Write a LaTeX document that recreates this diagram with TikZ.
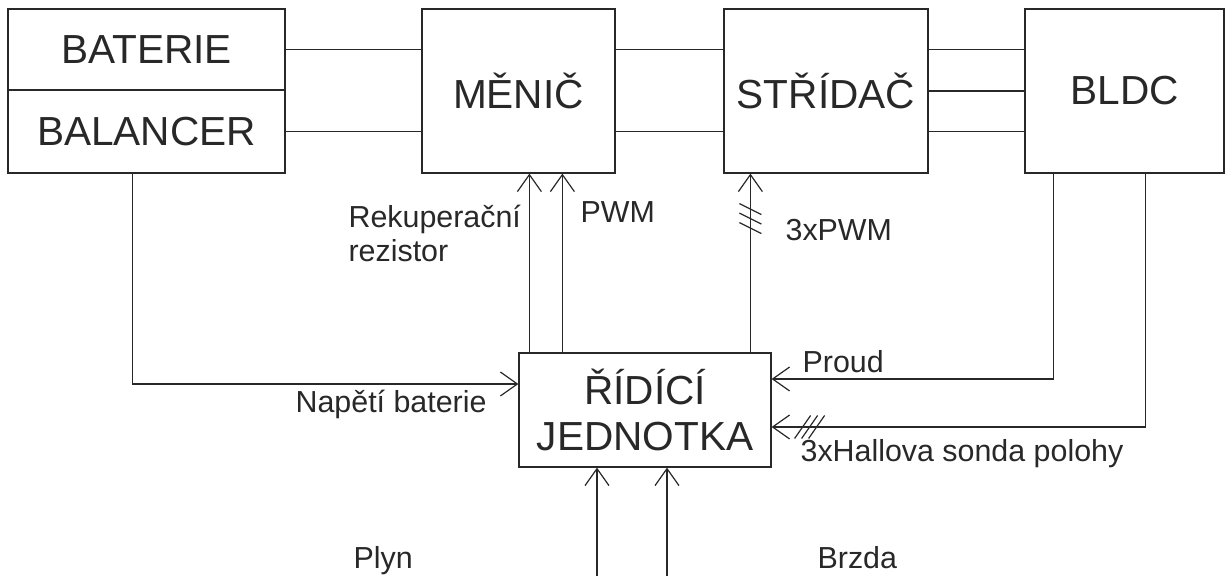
\documentclass[tikz,border=0pt]{standalone}
\usepackage{fontspec}
\setsansfont{Liberation Sans}
\usetikzlibrary{arrows.meta,calc}
\definecolor{cline}{RGB}{40,40,40}

\begin{document}
\begin{tikzpicture}[
  x=0.5pt,y=-0.5pt,
  font=\sffamily,
  line width=0.6pt,
  blok/.style={draw=cline,inner sep=0pt,align=center,text=cline,font=\sffamily\fontsize{20.3}{23}\selectfont},
  popis/.style={anchor=base west,inner sep=0pt,align=left,text=cline,font=\sffamily\fontsize{15.2}{17}\selectfont},
  wire/.style={draw=cline},
  sig/.style={draw=cline,-{Straight Barb[length=8.5pt,width=12pt]}},
  hash/.style={draw=cline}
]
  \useasboundingbox (0,0) rectangle (1228,576);

  \node[blok,minimum width=138.5pt,minimum height=40.5pt] (bat) at (146.5,49.5) {BATERIE};
  \node[blok,minimum width=138.5pt,minimum height=41.5pt] (bal) at (146.5,131.5) {BALANCER};
  \node[blok,minimum width=96.5pt,minimum height=82pt] (menic) at (518.5,91) {MĚNIČ};
  \node[blok,minimum width=102pt,minimum height=82pt] (stridac) at (826,91) {STŘÍDAČ};
  \node[blok,minimum width=99.5pt,minimum height=82pt] (bldc) at (1124.5,91) {BLDC};
  \node[blok,minimum width=126pt,minimum height=57pt] (rj) at (645,410) {ŘÍDÍCÍ\\JEDNOTKA};

  \draw[wire] (bat.east) -- (bat.east -| menic.west);
  \draw[wire] (bal.east) -- (bal.east -| menic.west);
  \draw[wire] (bat.east -| menic.east) -- (bat.east -| stridac.west);
  \draw[wire] (bal.east -| menic.east) -- (bal.east -| stridac.west);
  \draw[wire] (bat.east -| stridac.east) -- (bat.east -| bldc.west);
  \draw[wire] (stridac.east) -- (bldc.west);
  \draw[wire] (bal.east -| stridac.east) -- (bal.east -| bldc.west);

  \coordinate (rek) at ($(rj.north west)+(11,0)$);
  \coordinate (pwm) at ($(rj.north west)+(44,0)$);
  \coordinate (pwm3) at ($(rj.north west)+(232,0)$);
  \draw[sig] (rek) -- (rek |- menic.south);
  \draw[sig] (pwm) -- (pwm |- menic.south);
  \draw[sig] (pwm3) -- (pwm3 |- stridac.south);
  \foreach \d in {0,9.5,19}
    \draw[hash] ($(pwm3 |- stridac.south)+(-11,30+\d)$) -- ++(22,11);

  \coordinate (nap) at ($(bal.south west)+(125,0)$);
  \coordinate (proud) at ($(bldc.south west)+(29,0)$);
  \coordinate (hall) at ($(bldc.south west)+(121,0)$);
  \draw[sig] (nap) |- ($(rj.west)+(0,-26)$);
  \draw[sig] (proud) |- ($(rj.east)+(0,-31)$);
  \draw[sig] (hall) |- ($(rj.east)+(0,17)$);
  \foreach \d in {0,7,14}
    \draw[hash] ($(rj.east)+(23+\d,28.5)$) -- ++(16,-23);

  \coordinate (plyn) at (597,576);
  \coordinate (brzda) at (667,576);
  \draw[sig] (plyn) -- (plyn |- rj.south);
  \draw[sig] (brzda) -- (brzda |- rj.south);

  \node[popis] (lrek) at (348,262) {Rekuperační\\rezistor};
  \node[popis] (lpwm) at (580,223) {PWM};
  \node[popis] (lpwm3) at (785,241) {3xPWM};
  \node[popis] (lnap) at (295,413) {Napětí baterie};
  \node[popis] (lproud) at (802,373) {Proud};
  \node[popis] (lhall) at (800,462) {3xHallova sonda polohy};
  \node[popis] (lplyn) at (353,569) {Plyn};
  \node[popis] (lbrzda) at (817,569) {Brzda};
\end{tikzpicture}
\end{document}
